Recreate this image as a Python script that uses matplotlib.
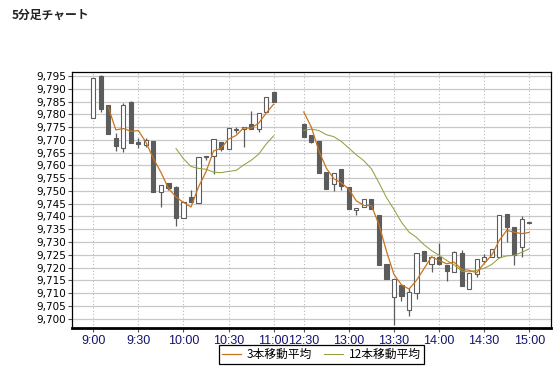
import matplotlib
matplotlib.use("Agg")
import matplotlib.pyplot as plt
import numpy as np
import pandas as pd
from matplotlib.lines import Line2D

# ---------------- data ----------------
times = ["9:00", "9:05", "9:10", "9:15", "9:20", "9:25", "9:30", "9:35", "9:40", "9:45",
         "9:50", "9:55", "10:00", "10:05", "10:10", "10:15", "10:20", "10:25", "10:30", "10:35",
         "10:40", "10:45", "10:50", "10:55", "11:00",
         "12:30", "12:35", "12:40", "12:45", "12:50", "12:55", "13:00", "13:05", "13:10", "13:15",
         "13:20", "13:25", "13:30", "13:35", "13:40", "13:45", "13:50", "13:55", "14:00", "14:05",
         "14:10", "14:15", "14:20", "14:25", "14:30", "14:35", "14:40", "14:45", "14:50", "14:55",
         "15:00"]
opens = [9778.4, 9795.0, 9783.6, 9770.6, 9767.0, 9784.8, 9769.3, 9768.1, 9769.6, 9749.7,
         9753.0, 9751.7, 9739.3, 9747.5, 9745.4, 9763.4, 9763.7, 9769.2, 9766.5, 9774.0,
         9774.4, 9776.2, 9774.1, 9780.8, 9788.6,
         9776.2, 9771.9, 9769.7, 9757.4, 9752.7, 9758.5, 9751.7, 9742.5, 9743.8, 9746.7,
         9740.6, 9721.4, 9708.6, 9713.0, 9703.4, 9709.9, 9726.5, 9721.4, 9724.3, 9721.0,
         9718.4, 9725.6, 9711.5, 9717.5, 9722.7, 9724.0, 9724.3, 9741.0, 9735.8, 9728.2,
         9738.0]
highs = [9794.2, 9795.5, 9783.6, 9772.6, 9784.6, 9785.3, 9770.8, 9770.6, 9769.6, 9752.2,
         9753.0, 9752.0, 9745.8, 9750.4, 9763.2, 9763.6, 9770.2, 9769.2, 9774.5, 9775.2,
         9775.2, 9781.3, 9780.4, 9786.9, 9788.6,
         9776.6, 9771.9, 9769.7, 9757.4, 9756.9, 9758.5, 9751.7, 9743.3, 9746.7, 9746.7,
         9740.6, 9721.4, 9715.4, 9713.5, 9711.9, 9725.6, 9726.5, 9724.3, 9729.7, 9721.0,
         9726.6, 9726.9, 9717.7, 9723.2, 9725.3, 9727.1, 9740.6, 9741.0, 9735.8, 9740.2,
         9738.0]
lows = [9778.4, 9781.0, 9772.2, 9765.8, 9765.4, 9768.9, 9767.0, 9767.3, 9749.7, 9743.8,
        9750.5, 9736.3, 9739.3, 9745.8, 9745.4, 9762.1, 9756.6, 9765.8, 9766.5, 9772.6,
        9767.3, 9774.1, 9773.2, 9780.8, 9784.7,
        9771.2, 9768.6, 9756.9, 9750.6, 9750.0, 9750.5, 9743.0, 9740.7, 9743.8, 9742.8,
        9721.0, 9715.4, 9697.5, 9707.0, 9701.0, 9707.6, 9722.7, 9718.4, 9721.0, 9714.9,
        9718.4, 9712.9, 9711.5, 9716.4, 9721.7, 9724.0, 9724.3, 9730.1, 9721.0, 9724.0,
        9737.4]
closes = [9794.2, 9782.0, 9772.2, 9767.6, 9783.6, 9768.9, 9768.4, 9770.0, 9749.7, 9752.2,
          9751.2, 9739.5, 9745.8, 9745.8, 9763.2, 9763.6, 9770.2, 9766.3, 9774.5, 9774.4,
          9775.2, 9774.1, 9780.4, 9786.9, 9784.7,
          9771.2, 9769.3, 9756.9, 9750.6, 9756.9, 9752.0, 9743.0, 9743.3, 9746.7, 9742.8,
          9721.0, 9715.4, 9715.4, 9708.9, 9710.4, 9725.6, 9722.7, 9724.3, 9721.3, 9718.8,
          9726.2, 9712.9, 9717.7, 9723.2, 9724.0, 9727.1, 9740.6, 9736.0, 9724.9, 9738.9,
          9737.4]
tick_labels = ["9:00", "9:30", "10:00", "10:30", "11:00", "12:30",
               "13:00", "13:30", "14:00", "14:30", "15:00"]
ma_short, ma_long = 3, 12
legend_labels = ["3本移動平均", "12本移動平均"]
title = "5分足チャート"

# ---------------- layout helpers ----------------
def to_min(t):
    h, m = t.split(":")
    return int(h) * 60 + int(m)

AM_START, AM_END, PM_START = to_min("9:00"), to_min("11:00"), to_min("12:30")
GAP_SLOTS = 4

def slot(t):
    m = to_min(t)
    if m <= AM_END:
        return (m - AM_START) / 5
    return (AM_END - AM_START) / 5 + GAP_SLOTS + (m - PM_START) / 5

x = np.array([slot(t) for t in times])
o = np.array(opens); h = np.array(highs); l = np.array(lows); c = np.array(closes)
s_close = pd.Series(c)
ma3 = s_close.rolling(ma_short).mean().to_numpy()
ma12 = s_close.rolling(ma_long).mean().to_numpy()
am = np.array([to_min(t) <= AM_END for t in times])

# ---------------- figure ----------------
fig = plt.figure(figsize=(5.6, 3.68), dpi=100)
ax = fig.add_axes([72/560, 1-328/368, (551-72)/560, (328-72)/368])

ax.set_xlim(-2.83, 60.89)
ax.set_ylim(9696.3, 9796.6)

yt = np.arange(9700, 9796, 5)
ax.set_yticks(yt)
ax.set_yticklabels([f"{v:,}" for v in yt], fontsize=7.5, family="DejaVu Sans", color="black")
xt = [slot(t) for t in tick_labels]
ax.set_xticks(xt)
ax.set_xticklabels(tick_labels, fontsize=9, family=["Liberation Sans Narrow", "Liberation Sans"],
                   color="#14146e")
ax.tick_params(axis="y", length=3, width=0.8, pad=1, color="#555555")
ax.tick_params(axis="x", length=3, width=0.8, pad=2, color="#555555")

for v in yt:
    ax.axhline(v, color="#c8c8c8", lw=0.9, zorder=0)
for v in xt:
    ax.axvline(v, color="#b8b8b8", lw=0.8, ls=(0, (1, 2)), zorder=0)

for sp in ["left", "top", "right"]:
    ax.spines[sp].set_linewidth(0.9)
    ax.spines[sp].set_color("black")
ax.spines["bottom"].set_linewidth(2.0)

dark = "#5c5c5c"
ax.vlines(x, l, h, color=dark, lw=0.9, zorder=2)
up = c >= o
bottoms = np.minimum(o, c)
heights = np.maximum(np.abs(c - o), 0.25)
ax.bar(x[up], heights[up], bottom=bottoms[up], width=0.55, facecolor="white",
       edgecolor=dark, linewidth=0.8, zorder=3)
ax.bar(x[~up], heights[~up], bottom=bottoms[~up], width=0.55, facecolor=dark,
       edgecolor=dark, linewidth=0.8, zorder=3)

c3 = "#c8741a"
c12 = "#96a040"
for mask in (am, ~am):
    ax.plot(x[mask], ma12[mask], color=c12, lw=0.75, zorder=4)
    ax.plot(x[mask], ma3[mask], color=c3, lw=0.9, zorder=5)

handles = [Line2D([], [], color=c3, lw=0.9), Line2D([], [], color=c12, lw=0.75)]
leg = fig.legend(handles, legend_labels, loc="center", bbox_to_anchor=(0.574, 0.036),
                 ncol=2, fancybox=False, frameon=True, edgecolor="black", framealpha=1,
                 handlelength=1.6, handletextpad=0.5, columnspacing=1.0,
                 borderpad=0.25, prop={"family": ["Liberation Sans Narrow", "Noto Sans CJK JP"],
                                       "size": 8.5})
leg.get_frame().set_linewidth(0.9)

fig.text(12/560, 1-15.5/368, title, fontsize=8.5, fontweight="bold",
         family=["Noto Sans CJK JP", "DejaVu Sans"], color="#222222", va="center", ha="left")

fig.savefig("out.png", dpi=100, facecolor="white")
